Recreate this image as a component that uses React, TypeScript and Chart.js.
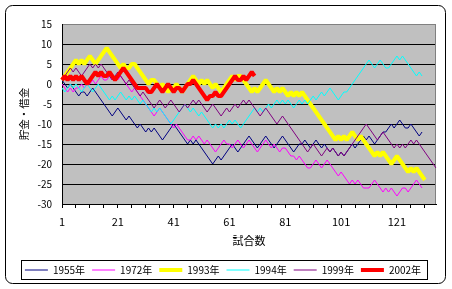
import React, { useEffect, useRef } from "react";
import { Chart, registerables } from "chart.js";

Chart.register(...registerables);

// categories: game numbers 1..135
const GAMES: string[] = Array.from({ length: 135 }, (_, i) => String(i + 1));
const X_TICK_LABELS = ["1", "21", "41", "61", "81", "101", "121"];
const Y_MIN = -30;
const Y_MAX = 15;
const Y_STEP = 5;

const SERIES_NAMES = ["1955年", "1972年", "1993年", "1994年", "1999年", "2002年"];
const SERIES_COLORS = ["#000080", "#FF00FF", "#FFFF00", "#00FFFF", "#800080", "#FF0000"];
const SERIES_WIDTHS = [1, 1, 4, 1, 1, 4];

const S1955 = [
  1, 0, -1, 0, -1, -2, -3, -2, -2, -3,
  -2, -1, -2, -3, -4, -5, -6, -7, -8, -7,
  -6, -7, -8, -9, -8, -9, -10, -11, -10, -11,
  -12, -11, -12, -11, -12, -13, -14, -13, -12, -11,
  -10, -11, -12, -13, -14, -15, -14, -15, -14, -15,
  -16, -17, -18, -19, -20, -19, -18, -19, -18, -17,
  -16, -15, -16, -17, -16, -15, -14, -13, -14, -15,
  -16, -15, -14, -13, -14, -15, -16, -15, -14, -13,
  -14, -15, -16, -17, -16, -15, -15, -14, -15, -16,
  -15, -14, -15, -16, -15, -16, -17, -16, -17, -18,
  -17, -18, -17, -16, -15, -16, -15, -14, -13, -14,
  -13, -14, -15, -14, -13, -12, -12, -11, -10, -11,
  -10, -9, -10, -11, -11, -10, -11, -12, -13, -12,
];

const S1972 = [
  0, -1, -2, -1, -2, -1, -1, 0, -1, 0,
  0, 1, 0, 1, 2, 1, 1, 2, 1, 2,
  1, 2, 1, 0, -1, -2, -1, -2, -3, -4,
  -5, -6, -7, -8, -7, -6, -7, -8, -9, -10,
  -11, -10, -11, -12, -13, -14, -14, -13, -14, -13,
  -14, -15, -14, -15, -16, -17, -16, -15, -14, -15,
  -15, -16, -15, -14, -15, -16, -15, -14, -15, -16,
  -17, -16, -15, -14, -15, -16, -15, -16, -17, -16,
  -16, -17, -18, -18, -19, -18, -19, -20, -21, -21,
  -20, -19, -20, -21, -20, -19, -20, -21, -22, -23,
  -22, -23, -24, -25, -24, -25, -24, -25, -26, -26,
  -26, -25, -24, -25, -26, -27, -26, -27, -26, -27,
  -28, -27, -26, -26, -27, -26, -25, -24, -25, -26,
];

const S1993 = [
  1, 2, 3, 4, 5, 6, 5, 6, 5, 6,
  7, 6, 5, 6, 7, 8, 9, 8, 7, 6,
  5, 4, 5, 4, 4, 5, 5, 4, 3, 2,
  1, 0, 1, 1, 0, -1, 0, -1, -2, -1,
  -1, 0, -1, -2, -1, 0, 1, 2, 1, 0,
  1, 0, 1, 0, -1, 0, -1, -2, -1, 0,
  1, 2, 1, 2, 2, 1, 0, -1, -2, -1,
  -2, -1, 0, 1, 0, -1, -2, -1, -2, -1,
  -2, -3, -2, -3, -2, -3, -2, -3, -4, -5,
  -6, -7, -8, -9, -10, -11, -12, -13, -14, -13,
  -14, -13, -14, -13, -12, -13, -14, -13, -14, -15,
  -16, -17, -18, -17, -18, -17, -18, -19, -20, -19,
  -18, -19, -20, -21, -22, -21, -22, -21, -22, -23, -24,
];

const S1994 = [
  -1, -2, -1, 0, -1, 0, -1, -2, -1, 0,
  -1, -2, -1, 0, -1, -2, -3, -4, -3, -4,
  -3, -2, -3, -4, -3, -4, -3, -4, -5, -4,
  -5, -6, -7, -6, -7, -6, -7, -8, -9, -10,
  -9, -8, -7, -6, -5, -6, -7, -6, -7, -8,
  -7, -8, -9, -10, -11, -10, -11, -10, -11, -10,
  -9, -10, -9, -10, -11, -10, -9, -8, -7, -6,
  -7, -6, -7, -6, -5, -6, -5, -4, -5, -4,
  -5, -4, -5, -6, -5, -4, -5, -4, -5, -4,
  -3, -4, -3, -2, -3, -2, -1, -2, -3, -4,
  -3, -2, -2, -1, 0, 1, 2, 3, 4, 5,
  6, 5, 4, 5, 6, 5, 4, 4, 5, 6,
  7, 6, 7, 6, 5, 4, 3, 2, 3, 2,
];

const S1999 = [
  1, 2, 3, 4, 3, 4, 3, 2, 3, 4,
  5, 4, 5, 4, 5, 4, 3, 2, 1, 2,
  3, 2, 1, 0, 1, 0, -1, -2, -3, -2,
  -3, -4, -5, -6, -5, -4, -5, -6, -5, -4,
  -5, -6, -7, -6, -5, -6, -5, -4, -5, -4,
  -5, -6, -7, -6, -5, -6, -7, -8, -7, -6,
  -7, -6, -5, -6, -5, -4, -5, -4, -5, -6,
  -7, -8, -7, -6, -7, -8, -9, -10, -9, -8,
  -9, -10, -11, -12, -13, -14, -15, -16, -17, -16,
  -15, -16, -17, -18, -17, -16, -17, -16, -17, -18,
  -17, -18, -17, -16, -15, -14, -13, -12, -11, -10,
  -11, -12, -13, -14, -13, -12, -13, -14, -15, -16,
  -15, -16, -15, -16, -15, -14, -15, -14, -15, -16,
  -17, -18, -19, -20, -21,
];

const S2002 = [
  1, 2, 1, 2, 1, 2, 1, 2, 1, 0,
  1, 2, 3, 2, 3, 2, 2, 3, 2, 1,
  2, 3, 4, 3, 2, 1, 0, -1, -1, -1,
  -1, -2, -2, -1, 0, -1, -2, -1, 0, -1,
  -2, -1, -1, -2, -1, 0, 0, 1, 0, -1,
  -2, -3, -4, -3, -3, -2, -3, -3, -2, -1,
  0, 1, 2, 1, 1, 2, 1, 2, 3, 2,
];

const SERIES_VALUES = [S1955, S1972, S1993, S1994, S1999, S2002];

const FONT = '"Noto Sans CJK JP", "Noto Sans", sans-serif';

const framePlugin = {
  id: "frame",
  beforeDraw(chart: any) {
    const { ctx, chartArea: a, width, height } = chart;
    ctx.save();
    ctx.fillStyle = "#ffffff";
    ctx.fillRect(0, 0, width, height);
    // outer rounded border
    const x0 = 5.5, y0 = 5.5, x1 = width - 6.5, y1 = height - 5.5, r = 7;
    ctx.beginPath();
    ctx.moveTo(x0 + r, y0);
    ctx.arcTo(x1, y0, x1, y1, r);
    ctx.arcTo(x1, y1, x0, y1, r);
    ctx.arcTo(x0, y1, x0, y0, r);
    ctx.arcTo(x0, y0, x1, y0, r);
    ctx.closePath();
    ctx.strokeStyle = "#000000";
    ctx.lineWidth = 1;
    ctx.stroke();
    // plot area background
    ctx.fillStyle = "#C0C0C0";
    ctx.fillRect(a.left, a.top, a.right - a.left, a.bottom - a.top);
    ctx.restore();
  },
  beforeDatasetsDraw(chart: any) {
    const { ctx, chartArea: a } = chart;
    ctx.save();
    ctx.strokeStyle = "#808080";
    ctx.lineWidth = 1;
    ctx.beginPath();
    const xr = Math.round(a.right) - 0.5;
    ctx.moveTo(xr, a.top);
    ctx.lineTo(xr, a.bottom);
    ctx.stroke();
    ctx.restore();
  },
  afterDraw(chart: any) {
    const lg = chart.legend;
    if (!lg || !lg.legendHitBoxes || !lg.legendHitBoxes.length) return;
    const hb = lg.legendHitBoxes;
    let l = Infinity, r = -Infinity, t = Infinity, b = -Infinity;
    hb.forEach((h: any) => {
      l = Math.min(l, h.left);
      r = Math.max(r, h.left + h.width);
      t = Math.min(t, h.top);
      b = Math.max(b, h.top + h.height);
    });
    const { ctx } = chart;
    ctx.save();
    ctx.strokeStyle = "#000000";
    ctx.lineWidth = 1;
    const bl = Math.round(l) - 3.5;
    const br = Math.round(r) + 6.5;
    const bt = Math.round(t) - 4.5;
    const bb = Math.round(b) + 4.5;
    ctx.strokeRect(bl, bt, br - bl, bb - bt);
    ctx.restore();
  },
};

export default function App() {
  const ref = useRef<HTMLCanvasElement | null>(null);

  useEffect(() => {
    document.body.style.margin = "0";
    const canvas = ref.current;
    if (!canvas) return;
    const n = SERIES_NAMES.length;
    const chart = new Chart(canvas, {
      type: "line",
      data: {
        labels: GAMES,
        datasets: SERIES_NAMES.map((name, i) => ({
          label: name,
          data: SERIES_VALUES[i],
          borderColor: SERIES_COLORS[i],
          backgroundColor: SERIES_COLORS[i],
          borderWidth: SERIES_WIDTHS[i],
          pointRadius: 0,
          pointHoverRadius: 0,
          tension: 0,
          fill: false,
          borderJoinStyle: "bevel" as const,
          order: n - i,
        })),
      },
      options: {
        animation: false,
        responsive: false,
        devicePixelRatio: 1,
        layout: { padding: { left: 10, right: 16, top: 24, bottom: 4 } },
        plugins: {
          tooltip: { enabled: false },
          legend: {
            display: true,
            position: "bottom",
            labels: {
              usePointStyle: true,
              pointStyle: "line",
              pointStyleWidth: 23,
              padding: 7,
              color: "#000000",
              font: { family: FONT, size: 10 },
              sort: (a: any, b: any) => a.datasetIndex - b.datasetIndex,
            },
          },
        },
        scales: {
          x: {
            type: "category",
            offset: false,
            grid: {
              drawOnChartArea: false,
              drawTicks: true,
              tickLength: 4,
              color: (c: any) => (c.index % 5 === 0 ? "#000000" : "rgba(0,0,0,0)"),
            },
            border: { color: "#000000", width: 1 },
            ticks: {
              autoSkip: false,
              maxRotation: 0,
              minRotation: 0,
              padding: 7,
              color: "#000000",
              font: { family: FONT, size: 11 },
              callback: (_v: any, i: number) =>
                X_TICK_LABELS.includes(GAMES[i]) ? GAMES[i] : "",
            },
            title: {
              display: true,
              text: "試合数",
              color: "#000000",
              font: { family: FONT, size: 11 },
              padding: { top: 0, bottom: 11 },
            },
            afterFit: (s: any) => {
              s.height = 54;
            },
          },
          y: {
            min: Y_MIN,
            max: Y_MAX,
            grid: {
              drawTicks: false,
              color: (c: any) => (c.tick && c.tick.value === Y_MAX ? "#808080" : "#000000"),
            },
            border: { color: "#000000", width: 1 },
            ticks: {
              stepSize: Y_STEP,
              padding: 10,
              color: "#000000",
              font: { family: FONT, size: 10 },
            },
            title: {
              display: true,
              text: "貯金・借金",
              color: "#000000",
              font: { family: FONT, size: 10.5 },
              padding: { top: 8, bottom: 0 },
            },
            afterFit: (s: any) => {
              s.width = 52;
            },
          },
        },
      },
      plugins: [framePlugin],
    });
    return () => chart.destroy();
  }, []);

  return (
    <div style={{ position: "fixed", left: 0, top: 0, width: 452, height: 289 }}>
      <canvas ref={ref} width={452} height={289} style={{ display: "block" }} />
    </div>
  );
}
